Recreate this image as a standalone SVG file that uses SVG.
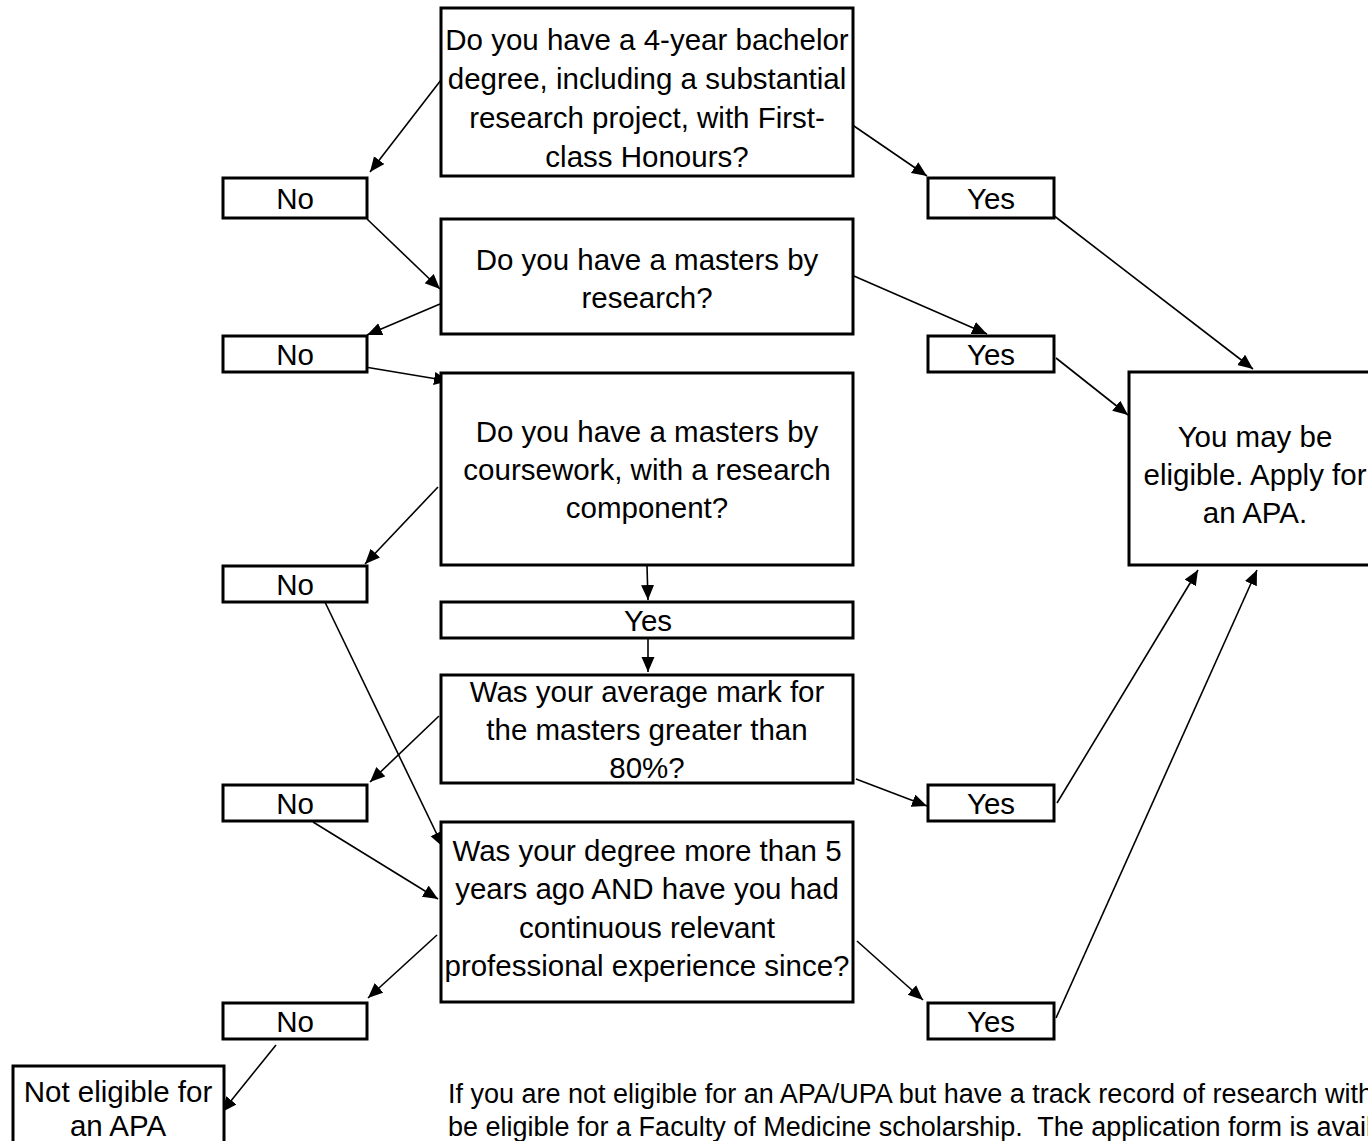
<svg xmlns="http://www.w3.org/2000/svg" width="1368" height="1141" viewBox="0 0 1368 1141">
<defs>
<style>
.box{fill:#fff;stroke:#000;stroke-width:3}
.t{font-family:"Liberation Sans",Arial,sans-serif;font-size:29.5px;fill:#000;text-anchor:middle}
.p{font-family:"Liberation Sans",Arial,sans-serif;font-size:27px;fill:#000}
.c{stroke:#000;stroke-width:1.6;fill:none;marker-end:url(#ah)}
</style>
<marker id="ah" markerUnits="userSpaceOnUse" markerWidth="16" markerHeight="14" refX="15" refY="6.5" orient="auto">
<path d="M0,0 L15,6.5 L0,13 z" fill="#000"/>
</marker>
</defs>
<rect width="1368" height="1141" fill="#fff"/>
<g id="connectors">
<line class="c" x1="441" y1="80" x2="370" y2="172"/>
<line class="c" x1="851" y1="124" x2="927" y2="176"/>
<line class="c" x1="367" y1="219" x2="440" y2="289"/>
<line class="c" x1="1053" y1="215" x2="1253" y2="369"/>
<line class="c" x1="847" y1="273" x2="987" y2="334"/>
<line class="c" x1="440" y1="304" x2="367" y2="335"/>
<line class="c" x1="365" y1="367" x2="449" y2="381"/>
<line class="c" x1="1056" y1="358" x2="1128" y2="415"/>
<line class="c" x1="438" y1="487" x2="365" y2="564"/>
<line class="c" x1="647" y1="566" x2="648" y2="600"/>
<line class="c" x1="648" y1="625" x2="648" y2="672"/>
<line class="c" x1="323" y1="598" x2="443" y2="847"/>
<line class="c" x1="439" y1="716" x2="370" y2="782"/>
<line class="c" x1="856" y1="779" x2="927" y2="806"/>
<line class="c" x1="1057" y1="803" x2="1198" y2="570"/>
<line class="c" x1="313" y1="822" x2="438" y2="899"/>
<line class="c" x1="437" y1="935" x2="368" y2="998"/>
<line class="c" x1="857" y1="941" x2="923" y2="1000"/>
<line class="c" x1="1056" y1="1018" x2="1257" y2="570"/>
<line class="c" x1="276" y1="1045" x2="222" y2="1112"/>
</g>
<g id="q1">
<rect class="box" x="441" y="8" width="412" height="168"/>
<text class="t" x="647" y="50">Do you have a 4-year bachelor</text>
<text class="t" x="647" y="89">degree, including a substantial</text>
<text class="t" x="647" y="128">research project, with First-</text>
<text class="t" x="647" y="167">class Honours?</text>
</g>
<g id="no1"><rect class="box" x="223" y="178" width="144" height="40"/><text class="t" x="295" y="209">No</text></g>
<g id="yes1"><rect class="box" x="928" y="178" width="126" height="40"/><text class="t" x="991" y="209">Yes</text></g>
<g id="q2">
<rect class="box" x="441" y="219" width="412" height="115"/>
<text class="t" x="647" y="270">Do you have a masters by</text>
<text class="t" x="647" y="308">research?</text>
</g>
<g id="no2"><rect class="box" x="223" y="336" width="144" height="36"/><text class="t" x="295" y="365">No</text></g>
<g id="yes2"><rect class="box" x="928" y="336" width="126" height="36"/><text class="t" x="991" y="365">Yes</text></g>
<g id="q3">
<rect class="box" x="441" y="373" width="412" height="192"/>
<text class="t" x="647" y="442">Do you have a masters by</text>
<text class="t" x="647" y="480">coursework, with a research</text>
<text class="t" x="647" y="518">component?</text>
</g>
<g id="no3"><rect class="box" x="223" y="566" width="144" height="36"/><text class="t" x="295" y="595">No</text></g>
<g id="yes3"><rect class="box" x="441" y="602" width="412" height="36"/><text class="t" x="648" y="631">Yes</text></g>
<g id="q4">
<rect class="box" x="441" y="675" width="412" height="108"/>
<text class="t" x="647" y="702">Was your average mark for</text>
<text class="t" x="647" y="740">the masters greater than</text>
<text class="t" x="647" y="778">80%?</text>
</g>
<g id="no4"><rect class="box" x="223" y="785" width="144" height="36"/><text class="t" x="295" y="814">No</text></g>
<g id="yes4"><rect class="box" x="928" y="785" width="126" height="36"/><text class="t" x="991" y="814">Yes</text></g>
<g id="q5">
<rect class="box" x="441" y="822" width="412" height="180"/>
<text class="t" x="647" y="861">Was your degree more than 5</text>
<text class="t" x="647" y="899">years ago AND have you had</text>
<text class="t" x="647" y="938">continuous relevant</text>
<text class="t" x="647" y="976">professional experience since?</text>
</g>
<g id="no5"><rect class="box" x="223" y="1003" width="144" height="36"/><text class="t" x="295" y="1032">No</text></g>
<g id="yes5"><rect class="box" x="928" y="1003" width="126" height="36"/><text class="t" x="991" y="1032">Yes</text></g>
<g id="eligible">
<rect class="box" x="1129" y="372" width="252" height="193"/>
<text class="t" x="1255" y="447">You may be</text>
<text class="t" x="1255" y="485">eligible.  Apply for</text>
<text class="t" x="1255" y="523">an APA.</text>
</g>
<g id="noteligible">
<rect class="box" x="13" y="1066" width="211" height="100"/>
<text class="t" x="118" y="1102">Not eligible for</text>
<text class="t" x="118" y="1136">an APA</text>
</g>
<g id="note">
<text class="p" x="448" y="1103" xml:space="preserve">If you are not eligible for an APA/UPA but have a track record of research with</text>
<text class="p" x="448" y="1136" xml:space="preserve">be eligible for a Faculty of Medicine scholarship.  The application form is avail</text>
</g>
</svg>
